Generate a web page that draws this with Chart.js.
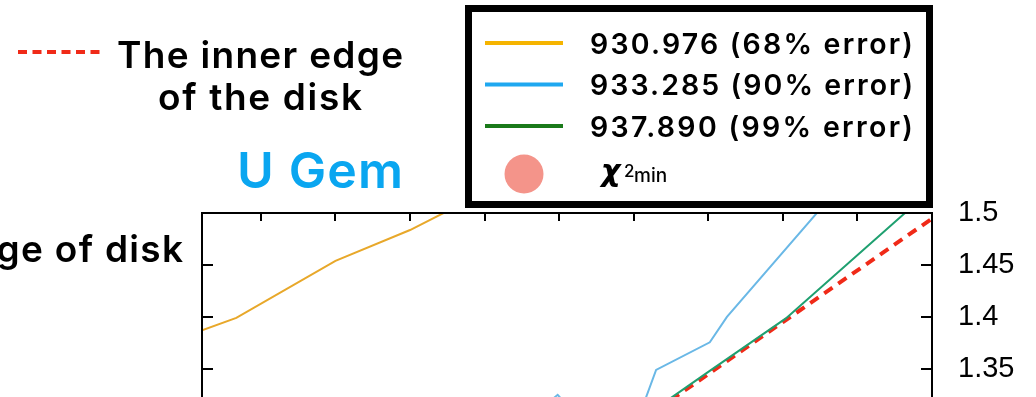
<!DOCTYPE html>
<html>
<head>
<meta charset="utf-8">
<script src="https://cdn.jsdelivr.net/npm/chart.js@4.4.1/dist/chart.umd.min.js"></script>
<style>
  html, body { margin: 0; padding: 0; background: #fff; overflow: hidden; width: 1036px; height: 397px; }
  #wrap { position: absolute; left: 0; top: 0; width: 1036px; height: 620px; }
</style>
</head>
<body>
<div id="wrap"><canvas id="chart" width="1036" height="620"></canvas></div>
<script>
// curves: inner-edge position vs. x (same x grid units as the top ticks)
const orangeX = [0.21, 0.67, 2.0, 3.0, 4.0];
const orangeY = [1.387, 1.399, 1.454, 1.4836, 1.520];

const blueX = [4.47, 4.98, 5.55, 6.08, 6.30, 7.02, 7.25, 8.77];
const blueY = [1.295, 1.325, 1.280, 1.306, 1.349, 1.3755, 1.400, 1.526];

const greenX = [6.0, 7.0, 8.04, 10.0];
const greenY = [1.297, 1.347, 1.3985, 1.523];

const edgeX = [5.0, 6.0, 8.0, 10.0];
const edgeY = [1.245, 1.295, 1.395, 1.4946];

const xTicks = [1, 2, 3, 4, 5, 6, 7, 8, 9, 10];
const yTicks = [1.2, 1.25, 1.3, 1.35, 1.4, 1.45, 1.5];

const legendLabels = ["930.976 (68% error)", "933.285 (90% error)", "937.890 (99% error)"];
const legendColors = ["#f5b400", "#1fa8f0", "#1a7a1a"];

const pts = (xs, ys) => xs.map((x, i) => ({x: x, y: ys[i]}));

const SANS = 'Inter, "Liberation Sans", sans-serif';

// letter gap that makes a label span the given width
function gapFor(ctx, text, width) {
  ctx.letterSpacing = "0px";
  const w = ctx.measureText(text).width;
  return (width - w) / Math.max(1, text.length - 1);
}

function fillGap(ctx, text, x, y, gap, align) {
  ctx.letterSpacing = gap.toFixed(2) + "px";
  ctx.textAlign = align || "left";
  // trailing letter spacing would shift right-aligned text
  ctx.fillText(text, align === "right" ? x + gap : x, y);
  ctx.letterSpacing = "0px";
}

// frame, inward tick marks, legend box and text labels
const decorations = {
  id: "decorations",
  afterDraw(chart) {
    const ctx = chart.ctx;
    const a = chart.chartArea;
    const xs = chart.scales.x, ys = chart.scales.y;
    ctx.save();

    ctx.strokeStyle = "#000";
    ctx.lineWidth = 2;
    ctx.strokeRect(a.left, a.top, a.right - a.left, a.bottom - a.top);
    ctx.beginPath();
    xTicks.forEach(v => {
      const px = Math.round(xs.getPixelForValue(v));
      ctx.moveTo(px, a.top); ctx.lineTo(px, a.top + 8);
    });
    yTicks.forEach(v => {
      const py = Math.round(ys.getPixelForValue(v));
      ctx.moveTo(a.left, py); ctx.lineTo(a.left + 11, py);
      ctx.moveTo(a.right, py); ctx.lineTo(a.right - 11, py);
    });
    ctx.stroke();

    // legend box
    ctx.lineWidth = 7;
    ctx.strokeRect(468.5, 8.5, 461, 196);
    ctx.lineWidth = 4;
    ctx.font = "600 28.5px " + SANS;
    ctx.fillStyle = "#000";
    ctx.textBaseline = "alphabetic";
    legendLabels.forEach((t, i) => {
      const y = 43 + i * 41.5;
      ctx.strokeStyle = legendColors[i];
      ctx.beginPath(); ctx.moveTo(485, y); ctx.lineTo(563, y); ctx.stroke();
      fillGap(ctx, t, 590, 53.5 + i * 41.5, gapFor(ctx, t, 323));
    });
    ctx.fillStyle = "#f4948a";
    ctx.beginPath(); ctx.arc(524, 174, 19.5, 0, Math.PI * 2); ctx.fill();
    ctx.fillStyle = "#000";
    ctx.textAlign = "left";
    ctx.font = 'italic 700 30px "DejaVu Sans", sans-serif';
    ctx.fillText("\u03c7", 601, 181);
    ctx.font = "500 17px " + SANS;
    ctx.fillText("2", 624, 177);
    ctx.font = "500 19px " + SANS;
    ctx.fillText("min", 634, 182);

    // inner-edge legend and titles
    ctx.strokeStyle = "#f02a18";
    ctx.lineWidth = 4;
    ctx.setLineDash([9, 5.5]);
    ctx.beginPath(); ctx.moveTo(18, 52); ctx.lineTo(102, 52); ctx.stroke();
    ctx.setLineDash([]);
    ctx.fillStyle = "#000";
    ctx.font = "600 37px " + SANS;
    const g = gapFor(ctx, "The inner edge", 286);
    fillGap(ctx, "The inner edge", 117, 68, g);
    fillGap(ctx, "of the disk", 158, 110, gapFor(ctx, "of the disk", 204));
    fillGap(ctx, "Inner edge of disk", 183, 262, g, "right");
    ctx.fillStyle = "#0aa6f0";
    ctx.font = "600 50px " + SANS;
    fillGap(ctx, "U Gem", 237, 188, gapFor(ctx, "U Gem", 166));
    ctx.restore();
  }
};

new Chart("chart", {
  type: "scatter",
  data: {
    datasets: [
      {data: pts(orangeX, orangeY), borderColor: "#e8a82a", borderWidth: 2, showLine: true, pointRadius: 0},
      {data: pts(blueX, blueY), borderColor: "#6ab8e6", borderWidth: 2, showLine: true, pointRadius: 0},
      {data: pts(greenX, greenY), borderColor: "#1fa070", borderWidth: 2, showLine: true, pointRadius: 0},
      {data: pts(edgeX, edgeY), borderColor: "#f02a18", borderWidth: 4, borderDash: [10, 7], showLine: true, pointRadius: 0}
    ]
  },
  options: {
    responsive: false,
    animation: false,
    layout: {padding: {left: 202, top: 213, right: 0, bottom: 20}},
    plugins: {legend: {display: false}, tooltip: {enabled: false}},
    scales: {
      x: {
        type: "linear", position: "top", min: 0.21, max: 10,
        grid: {display: false, drawTicks: false}, border: {display: false},
        ticks: {display: false},
        afterFit: s => { s.height = 0; }
      },
      y: {
        type: "linear", position: "right", min: 1.15, max: 1.5,
        grid: {display: false, drawTicks: false}, border: {display: false},
        afterBuildTicks: s => { s.ticks = yTicks.map(v => ({value: v})); },
        ticks: {
          padding: 26, color: "#000",
          font: {family: '"Liberation Sans", Arial, sans-serif', size: 29},
          callback: v => String(v)
        },
        afterFit: s => { s.width = 104; }
      }
    }
  },
  plugins: [decorations]
});
</script>
</body>
</html>
